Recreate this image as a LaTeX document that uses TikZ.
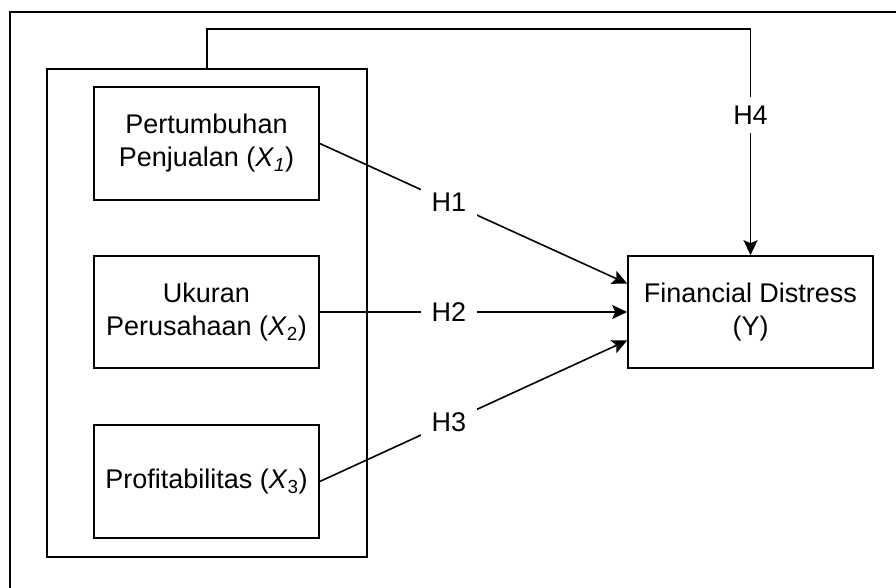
\documentclass[tikz,border=0pt]{standalone}
\usepackage{fontspec}
\setmainfont{Liberation Sans}
\usetikzlibrary{arrows.meta,calc}
\begin{document}
\begin{tikzpicture}[x=1pt,y=-1pt,
  every node/.style={font=\fontsize{27}{33}\selectfont},
  varbox/.style={draw,line width=1.6pt,minimum width=225pt,minimum height=113pt,align=center,inner sep=0pt},
  conn/.style={line width=1.6pt,-{Stealth[length=15pt,width=14pt,inset=3pt]}},
  plain/.style={line width=1.6pt},
  lbl/.style={fill=white,inner sep=0pt,minimum width=56pt,minimum height=28pt}]
\useasboundingbox (0,0) rectangle (896,588);
% outer frame (cropped)
\coordinate (fa) at (896,12);
\coordinate (fb) at (10,12);
\coordinate (fc) at (10,588);
\draw[plain] (fa) -- (fb) -- (fc);
% group box
\node[draw,line width=1.6pt,minimum width=320pt,minimum height=488pt,inner sep=0pt] (grp) at (207,313) {};
% variable boxes
\node[varbox] (b1) at (206.5,143.5) {Pertumbuhan\\Penjualan (\textit{X}\textsubscript{\textit{1}})};
\node[varbox,minimum height=112pt] (b2) at (206.5,312) {Ukuran\\Perusahaan (\textit{X}\textsubscript{2})};
\node[varbox] (b3) at (206.5,481.5) {Profitabilitas (\textit{X}\textsubscript{3})};
\node[draw,line width=1.6pt,minimum width=245pt,minimum height=112pt,align=center,inner sep=0pt] (Y) at (750.5,312) {Financial Distress\\(Y)};
% target points
\coordinate (t1) at ($(Y.north west)!0.25!(Y.south west)$);
\coordinate (t3) at ($(Y.north west)!0.75!(Y.south west)$);
% connectors
\draw[conn] (b1.east) -- node[lbl,pos=0.42]{H1} (t1);
\draw[conn] (b2.east) -- node[lbl,pos=0.42]{H2} (Y.west);
\draw[conn] (b3.east) -- node[lbl,pos=0.42]{H3} (t3);
\draw[conn] (grp.north) -- ++(0,-39) -| node[lbl,pos=0.69,minimum height=36pt]{H4} (Y.north);
\end{tikzpicture}
\end{document}
